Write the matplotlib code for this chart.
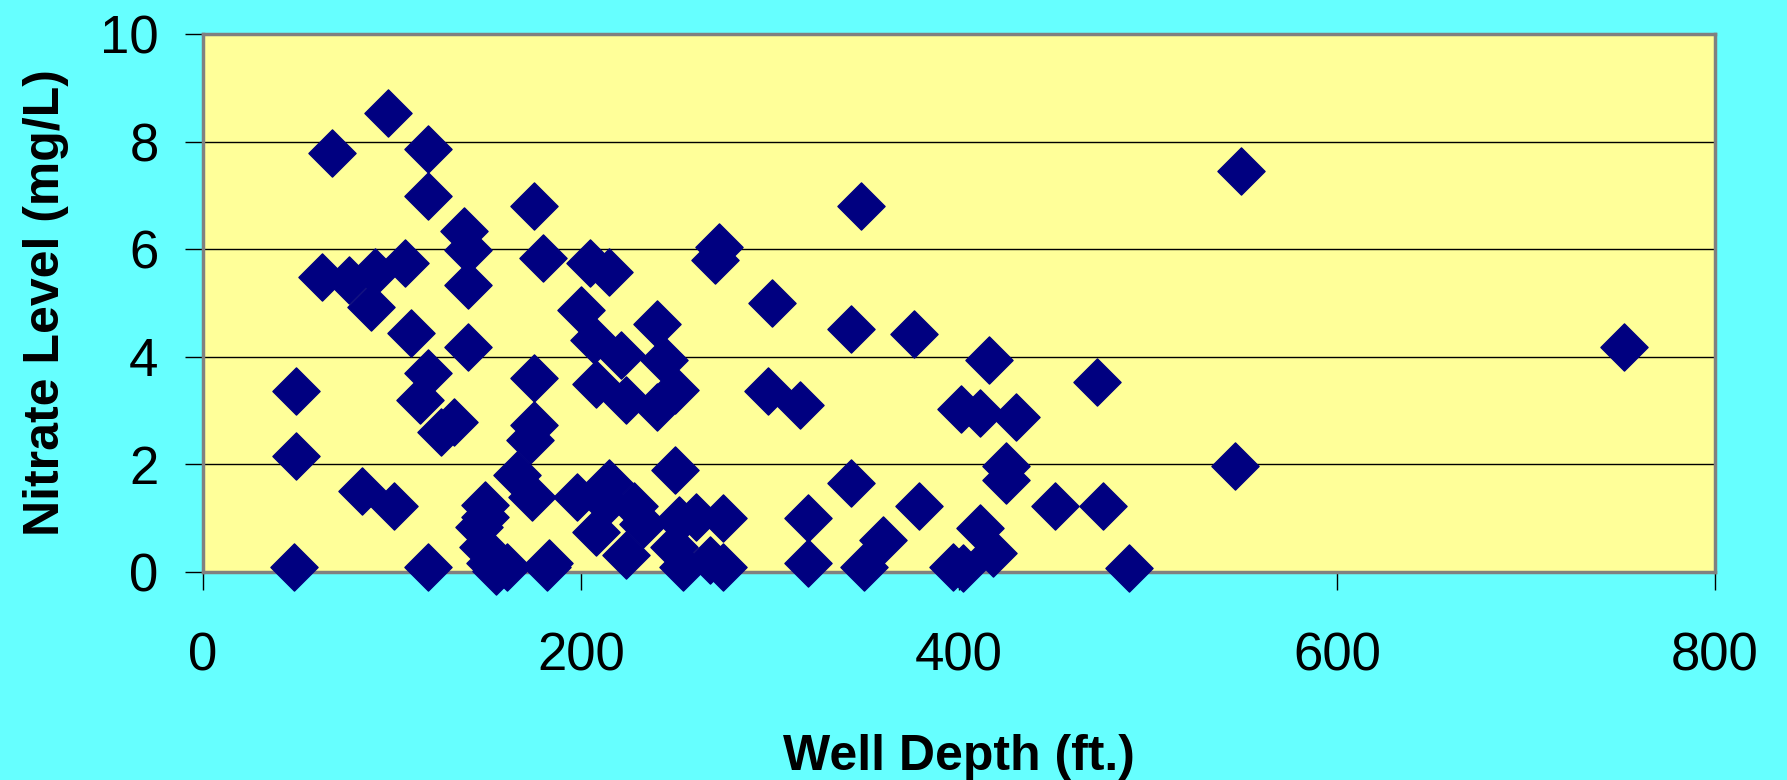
import matplotlib
matplotlib.use("Agg")
import matplotlib.pyplot as plt
import numpy as np

# well depth (ft.) and nitrate level (mg/L)
depth = [48, 49, 49, 63, 68, 77, 84, 89, 91, 98,
         101, 107, 110, 115, 119, 119, 119, 119, 126, 133,
         138, 140, 140, 140, 146, 148, 149, 149, 152, 155,
         161, 166, 173, 175, 175, 175, 174, 180, 182, 183,
         198, 200, 205, 207, 208, 208, 213, 215, 215, 221,
         224, 224, 228, 233, 240, 240, 244, 249, 250, 250,
         252, 254, 261, 268, 271, 273, 275, 275, 299, 301,
         316, 320, 320, 343, 343, 348, 350, 360, 376, 379,
         397, 401, 402, 411, 411, 416, 418, 425, 425, 430,
         451, 473, 476, 490, 546, 549, 752]
nitrate = [0.1, 2.15, 3.37, 5.49, 7.79, 5.43, 1.5, 4.93, 5.58, 8.53,
           1.23, 5.75, 4.44, 3.2, 7.87, 6.98, 3.69, 0.1, 2.61, 2.79,
           6.33, 5.99, 5.33, 4.19, 0.84, 0.47, 1.25, 1.03, 0.17, 0.02,
           0.1, 1.8, 2.45, 2.73, 3.6, 6.81, 1.4, 5.83, 0.1, 0.16,
           1.4, 4.87, 5.74, 4.31, 3.5, 0.75, 1.28, 5.58, 1.65, 4.03,
           3.2, 0.32, 1.22, 0.9, 4.61, 3.07, 3.94, 0.47, 3.39, 1.9,
           0.97, 0.1, 1.03, 0.22, 5.8, 6.05, 1.0, 0.1, 3.37, 5.0,
           3.1, 1.0, 0.16, 4.52, 1.65, 6.81, 0.1, 0.59, 4.43, 1.23,
           0.1, 3.03, 0.07, 2.95, 0.81, 3.94, 0.35, 1.97, 1.71, 2.88,
           1.23, 3.53, 1.23, 0.08, 1.97, 7.46, 4.18]

x_ticks = [0, 200, 400, 600, 800]
y_ticks = [0, 2, 4, 6, 8, 10]

plt.rcParams['font.family'] = ['Liberation Sans', 'DejaVu Sans']

fig = plt.figure(figsize=(17.87, 7.8), dpi=100, facecolor='#66FFFF')
ax = fig.add_axes([0.1136, 0.2667, 0.9597 - 0.1136, 0.9564 - 0.2667])
ax.set_facecolor('#FFFF99')

ax.set_xlim(0, 800)
ax.set_ylim(0, 10)
ax.set_xticks(x_ticks)
ax.set_yticks(y_ticks)

for yv in y_ticks[1:-1]:
    ax.axhline(yv, color='black', lw=1.0, zorder=1)

ax.scatter(depth, nitrate, marker='D', s=24**2, color='#000080',
           edgecolors='#000080', linewidths=1, zorder=3, clip_on=False)

for sp in ax.spines.values():
    sp.set_color('#808080')
    sp.set_linewidth(2.5)
    sp.set_zorder(2)

ax.tick_params(axis='both', direction='out', length=13, width=1, color='black',
               labelsize=38)
ax.tick_params(axis='y', pad=19)
ax.tick_params(axis='x', pad=30)

ax.set_xlabel('Well Depth (ft.)', fontsize=36, fontweight='bold', labelpad=38)
ax.set_ylabel('Nitrate Level (mg/L)', fontsize=36, fontweight='bold', labelpad=22)

fig.savefig('out.png', dpi=100, facecolor=fig.get_facecolor())
